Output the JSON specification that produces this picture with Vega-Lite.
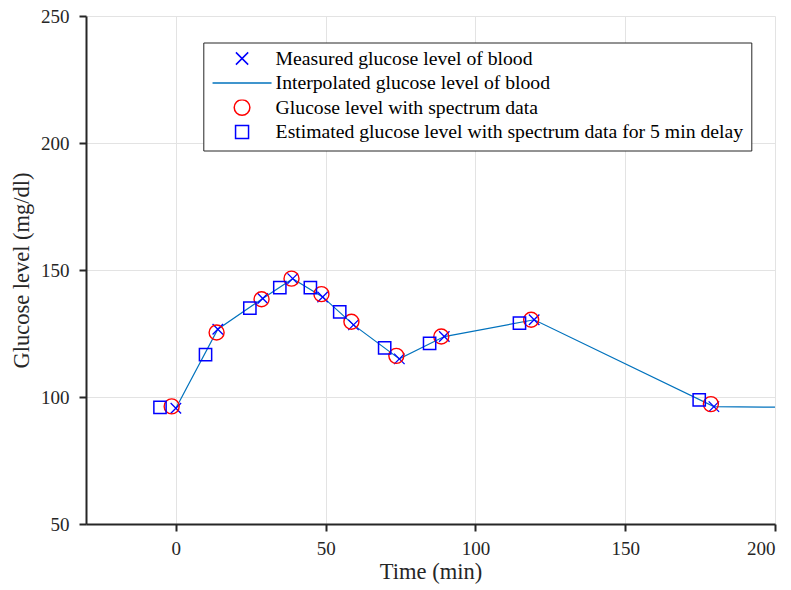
{
  "$schema": "https://vega.github.io/schema/vega-lite/v6.json",
  "width": 689,
  "height": 508,
  "autosize": {"type": "none"},
  "padding": {"left": 86, "top": 16, "right": 16, "bottom": 66},
  "background": "white",
  "datasets": {
    "measured": [
      {"series": "Measured glucose level of blood", "t": 0, "g": 95.6},
      {"series": "Measured glucose level of blood", "t": 14, "g": 126.7},
      {"series": "Measured glucose level of blood", "t": 29, "g": 138.8},
      {"series": "Measured glucose level of blood", "t": 39, "g": 146.6},
      {"series": "Measured glucose level of blood", "t": 49, "g": 139.4},
      {"series": "Measured glucose level of blood", "t": 59.3, "g": 128.4},
      {"series": "Measured glucose level of blood", "t": 74.6, "g": 115},
      {"series": "Measured glucose level of blood", "t": 89.6, "g": 123.8},
      {"series": "Measured glucose level of blood", "t": 119.6, "g": 130.4},
      {"series": "Measured glucose level of blood", "t": 179.6, "g": 96.2}
    ],
    "interpolated": [
      {"series": "Interpolated glucose level of blood", "t": 0, "g": 95.6},
      {"series": "Interpolated glucose level of blood", "t": 14, "g": 126.7},
      {"series": "Interpolated glucose level of blood", "t": 29, "g": 138.8},
      {"series": "Interpolated glucose level of blood", "t": 39, "g": 146.6},
      {"series": "Interpolated glucose level of blood", "t": 49, "g": 139.4},
      {"series": "Interpolated glucose level of blood", "t": 59.3, "g": 128.4},
      {"series": "Interpolated glucose level of blood", "t": 74.6, "g": 115},
      {"series": "Interpolated glucose level of blood", "t": 89.6, "g": 123.8},
      {"series": "Interpolated glucose level of blood", "t": 119.6, "g": 130.4},
      {"series": "Interpolated glucose level of blood", "t": 179.6, "g": 96.2},
      {"series": "Interpolated glucose level of blood", "t": 200, "g": 96}
    ],
    "spectrum": [
      {"series": "Glucose level with spectrum data", "t": -1.4, "g": 96.3},
      {"series": "Glucose level with spectrum data", "t": 13.6, "g": 125.4},
      {"series": "Glucose level with spectrum data", "t": 28.6, "g": 138.5},
      {"series": "Glucose level with spectrum data", "t": 38.6, "g": 146.6},
      {"series": "Glucose level with spectrum data", "t": 48.6, "g": 140.5},
      {"series": "Glucose level with spectrum data", "t": 58.6, "g": 129.6},
      {"series": "Glucose level with spectrum data", "t": 73.6, "g": 116.2},
      {"series": "Glucose level with spectrum data", "t": 88.6, "g": 123.8},
      {"series": "Glucose level with spectrum data", "t": 118.6, "g": 130.4},
      {"series": "Glucose level with spectrum data", "t": 178.6, "g": 97.2}
    ],
    "delayed": [
      {"series": "Estimated glucose level with spectrum data for 5 min delay", "t": -5.3, "g": 95.9},
      {"series": "Estimated glucose level with spectrum data for 5 min delay", "t": 9.9, "g": 116.7},
      {"series": "Estimated glucose level with spectrum data for 5 min delay", "t": 24.7, "g": 135},
      {"series": "Estimated glucose level with spectrum data for 5 min delay", "t": 34.7, "g": 143.1},
      {"series": "Estimated glucose level with spectrum data for 5 min delay", "t": 44.9, "g": 143.1},
      {"series": "Estimated glucose level with spectrum data for 5 min delay", "t": 54.7, "g": 133.5},
      {"series": "Estimated glucose level with spectrum data for 5 min delay", "t": 69.7, "g": 119.3},
      {"series": "Estimated glucose level with spectrum data for 5 min delay", "t": 84.7, "g": 121.1},
      {"series": "Estimated glucose level with spectrum data for 5 min delay", "t": 114.7, "g": 129.1},
      {"series": "Estimated glucose level with spectrum data for 5 min delay", "t": 174.7, "g": 98.9}
    ]
  },
  "encoding": {
    "x": {
      "field": "t",
      "type": "quantitative",
      "scale": {"domain": [-30, 200], "nice": false, "zero": false},
      "axis": {
        "title": "Time (min)",
        "values": [0, 50, 100, 150, 200],
        "ticks": true,
        "encode": {"ticks": {"enter": {"y2": {"value": -7}}, "update": {"y2": {"value": -7}}}}
      }
    },
    "y": {
      "field": "g",
      "type": "quantitative",
      "scale": {"domain": [50, 250], "nice": false, "zero": false},
      "axis": {
        "title": "Glucose level (mg/dl)",
        "values": [50, 100, 150, 200, 250],
        "ticks": true,
        "encode": {"ticks": {"enter": {"x2": {"value": 7}}, "update": {"x2": {"value": 7}}}}
      }
    },
    "color": {
      "field": "series",
      "type": "nominal",
      "scale": {
        "domain": [
          "Measured glucose level of blood",
          "Interpolated glucose level of blood",
          "Glucose level with spectrum data",
          "Estimated glucose level with spectrum data for 5 min delay"
        ],
        "range": ["#0000ff", "#0072bd", "#ff0000", "#0000ff"]
      },
      "legend": {
        "title": null,
        "orient": "none",
        "legendX": 117.3,
        "legendY": 26.5,
        "labelFont": "Times New Roman",
        "labelFontSize": 19.7,
        "encode": {
          "labels": {
            "enter": {"font": {"value": "Times New Roman"}},
            "update": {
              "font": {"value": "Times New Roman"},
              "fontSize": {"value": 19.7},
              "fill": {"value": "#000000"}
            }
          },
          "symbols": {
            "update": {
              "size": {"signal": "datum.value === 'Interpolated glucose level of blood' ? 3481 : datum.value === 'Measured glucose level of blood' ? 150 : datum.value === 'Glucose level with spectrum data' ? 245 : 169"},
              "strokeWidth": {"signal": "datum.value === 'Interpolated glucose level of blood' ? 1.3 : 1.5"}
            }
          }
        }
      }
    },
    "shape": {
      "field": "series",
      "type": "nominal",
      "scale": {
        "domain": [
          "Measured glucose level of blood",
          "Interpolated glucose level of blood",
          "Glucose level with spectrum data",
          "Estimated glucose level with spectrum data for 5 min delay"
        ],
        "range": ["M-1,-1L1,1M1,-1L-1,1", "stroke", "circle", "square"]
      },
      "legend": {
        "title": null,
        "labelFont": "Times New Roman",
        "labelFontSize": 19.7
      }
    }
  },
  "layer": [
    {
      "data": {"name": "interpolated"},
      "mark": {"type": "line", "strokeWidth": 1.2},
      "encoding": {"shape": null}
    },
    {
      "data": {"name": "measured"},
      "mark": {"type": "point", "filled": false, "size": 110, "strokeWidth": 1.3, "opacity": 1}
    },
    {
      "data": {"name": "spectrum"},
      "mark": {"type": "point", "filled": false, "size": 225, "strokeWidth": 1.4, "opacity": 1}
    },
    {
      "data": {"name": "delayed"},
      "mark": {"type": "point", "filled": false, "size": 150, "strokeWidth": 1.5, "opacity": 1}
    }
  ],
  "config": {
    "font": "Liberation Serif",
    "view": {"stroke": null},
    "style": {
      "guide-label": {"font": "Liberation Serif"},
      "guide-title": {"font": "Liberation Serif"}
    },
    "axis": {
      "domainColor": "#262626",
      "domainWidth": 2,
      "ticks": true,
      "tickColor": "#262626",
      "tickWidth": 2,
      "tickSize": 7,
      "gridColor": "#e3e3e3",
      "gridWidth": 1,
      "labelColor": "#262626",
      "labelFont": "Liberation Serif",
      "labelFontSize": 19,
      "titleFont": "Liberation Serif",
      "titleFontSize": 22.5,
      "titleFontWeight": "normal",
      "titleColor": "#262626",
      "titleBaseline": "alphabetic"
    },
    "axisX": {"labelPadding": 8, "titleY": 54},
    "axisY": {"labelPadding": 10, "titleX": -58},
    "legend": {
      "strokeColor": "#262626",
      "fillColor": "white",
      "padding": 8,
      "labelFont": "Liberation Serif",
      "labelFontSize": 19.7,
      "labelColor": "#000000",
      "labelOffset": 23.7,
      "symbolOffset": 20.9,
      "labelLimit": 700,
      "symbolStrokeWidth": 1.5,
      "clipHeight": 16,
      "rowPadding": 4.5,
      "cornerRadius": 0
    }
  }
}
